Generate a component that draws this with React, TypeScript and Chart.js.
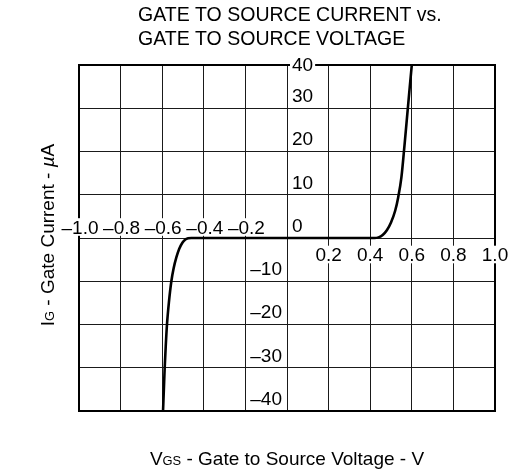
import React, { useEffect, useRef } from 'react';
import { Chart, registerables } from 'chart.js';

Chart.register(...registerables);

// Gate-to-source voltage (V) and gate current (µA)
const vgs = [
  -0.596, -0.592, -0.588, -0.583, -0.577, -0.568, -0.556, -0.545, -0.532, -0.518,
  -0.503, -0.49, -0.475, -0.46, 0.42, 0.44, 0.46, 0.48, 0.5, 0.52, 0.535, 0.55,
  0.565, 0.58, 0.59, 0.6,
];
const igMicroA = [
  -40, -35, -30, -25, -20, -15, -10, -7, -4.5, -2.5, -1.1, -0.4, -0.08, 0, 0, 0.15,
  0.7, 1.8, 3.6, 6.3, 9.5, 14, 21.5, 29.5, 34.8, 40,
];

const xTickValues = [-1.0, -0.8, -0.6, -0.4, -0.2, 0.2, 0.4, 0.6, 0.8, 1.0];
const xTickLabels = ['\u20131.0', '\u20130.8', '\u20130.6', '\u20130.4', '\u20130.2', '0.2', '0.4', '0.6', '0.8', '1.0'];
const yTickValues = [40, 30, 20, 10, 0, -10, -20, -30, -40];
const yTickLabels = ['40', '30', '20', '10', '0', '\u201310', '\u201320', '\u201330', '\u201340'];

const titleLines = ['GATE TO SOURCE CURRENT vs.', 'GATE TO SOURCE VOLTAGE'];
const yTitleParts = [
  { text: 'I', small: false, italic: false },
  { text: 'G', small: true, italic: false },
  { text: ' - Gate Current - ', small: false, italic: false },
  { text: '\u00b5', small: false, italic: true },
  { text: 'A', small: false, italic: false },
];
const xTitleParts = [
  { text: 'V', small: false, italic: false },
  { text: 'GS', small: true, italic: false },
  { text: ' - Gate to Source Voltage - V', small: false, italic: false },
];

const FAMILY = '"Liberation Sans", Arial, Helvetica, sans-serif';

type Part = { text: string; small: boolean; italic: boolean };

function partFont(p: Part, size: number) {
  const s = p.small ? size * 0.68 : size;
  return `${p.italic ? 'italic ' : ''}${s}px ${FAMILY}`;
}

function drawParts(ctx: CanvasRenderingContext2D, parts: Part[], cx: number, baseline: number, size: number) {
  let total = 0;
  for (const p of parts) {
    ctx.font = partFont(p, size);
    total += ctx.measureText(p.text).width;
  }
  let x = cx - total / 2;
  ctx.textAlign = 'left';
  ctx.textBaseline = 'alphabetic';
  for (const p of parts) {
    ctx.font = partFont(p, size);
    ctx.fillText(p.text, x, baseline);
    x += ctx.measureText(p.text).width;
  }
}

const decorPlugin = {
  id: 'decor',
  afterDraw(chart: any) {
    const { ctx, chartArea, scales } = chart;
    const xs = scales.x;
    const ys = scales.y;
    ctx.save();

    // frame
    ctx.strokeStyle = '#000';
    ctx.lineWidth = 2;
    ctx.strokeRect(chartArea.left, chartArea.top, chartArea.right - chartArea.left, chartArea.bottom - chartArea.top);

    const tickSize = 19;
    const cap = tickSize * 0.716;
    ctx.font = `${tickSize}px ${FAMILY}`;
    ctx.textBaseline = 'alphabetic';

    const zeroX = xs.getPixelForValue(0);
    const zeroY = ys.getPixelForValue(0);

    const label = (text: string, x: number, cy: number, align: 'left' | 'right' | 'center') => {
      const w = ctx.measureText(text).width;
      let left = x;
      if (align === 'right') left = x - w;
      if (align === 'center') left = x - w / 2;
      ctx.fillStyle = '#fff';
      ctx.fillRect(left - 2, cy - cap / 2 - 2, w + 4, cap + 4);
      ctx.fillStyle = '#000';
      ctx.textAlign = 'left';
      ctx.fillText(text, left, cy + cap / 2);
    };

    // y tick labels
    yTickValues.forEach((v, i) => {
      const py = ys.getPixelForValue(v);
      if (v === 40) {
        label(yTickLabels[i], zeroX + 5, py - 1, 'left');
      } else if (v >= 0) {
        label(yTickLabels[i], zeroX + 5, py - 13, 'left');
      } else {
        label(yTickLabels[i], zeroX - 5, py - 13, 'right');
      }
    });

    // x tick labels
    xTickValues.forEach((v, i) => {
      const px = xs.getPixelForValue(v);
      if (v < 0) {
        label(xTickLabels[i], px + 1, zeroY - 11, 'center');
      } else {
        label(xTickLabels[i], px, zeroY + 16.5, 'center');
      }
    });

    // title
    ctx.fillStyle = '#000';
    ctx.font = `19.5px ${FAMILY}`;
    ctx.textAlign = 'left';
    ctx.textBaseline = 'alphabetic';
    ctx.fillText(titleLines[0], 138, 21);
    ctx.fillText(titleLines[1], 138, 44.5);

    // x axis title
    drawParts(ctx, xTitleParts, 287, 465, 19);

    // y axis title
    ctx.save();
    ctx.translate(54, 235);
    ctx.rotate(-Math.PI / 2);
    drawParts(ctx, yTitleParts, 0, 0, 19);
    ctx.restore();

    ctx.restore();
  },
};

export default function App() {
  const canvasRef = useRef<HTMLCanvasElement | null>(null);

  useEffect(() => {
    const canvas = canvasRef.current;
    if (!canvas) return;
    const chart = new Chart(canvas, {
      type: 'line',
      data: {
        datasets: [
          {
            data: vgs.map((x, i) => ({ x, y: igMicroA[i] })),
            borderColor: '#000',
            borderWidth: 2.6,
            pointRadius: 0,
            fill: false,
            cubicInterpolationMode: 'monotone',
          },
        ],
      },
      options: {
        animation: false,
        responsive: true,
        maintainAspectRatio: false,
        layout: { padding: { left: 79, right: 13, top: 65, bottom: 65 } },
        plugins: { legend: { display: false }, tooltip: { enabled: false }, title: { display: false } },
        scales: {
          x: {
            type: 'linear',
            min: -1,
            max: 1,
            ticks: { display: false, stepSize: 0.2 },
            grid: { color: '#1a1a1a', lineWidth: 1, drawTicks: false },
            border: { display: false },
          },
          y: {
            type: 'linear',
            min: -40,
            max: 40,
            ticks: { display: false, stepSize: 10 },
            grid: { color: '#1a1a1a', lineWidth: 1, drawTicks: false },
            border: { display: false },
          },
        },
      },
      plugins: [decorPlugin],
    } as any);
    return () => chart.destroy();
  }, []);

  return (
    <div style={{ position: 'fixed', left: 0, top: 0, width: 508, height: 476, background: '#fff' }}>
      <canvas ref={canvasRef} />
    </div>
  );
}
